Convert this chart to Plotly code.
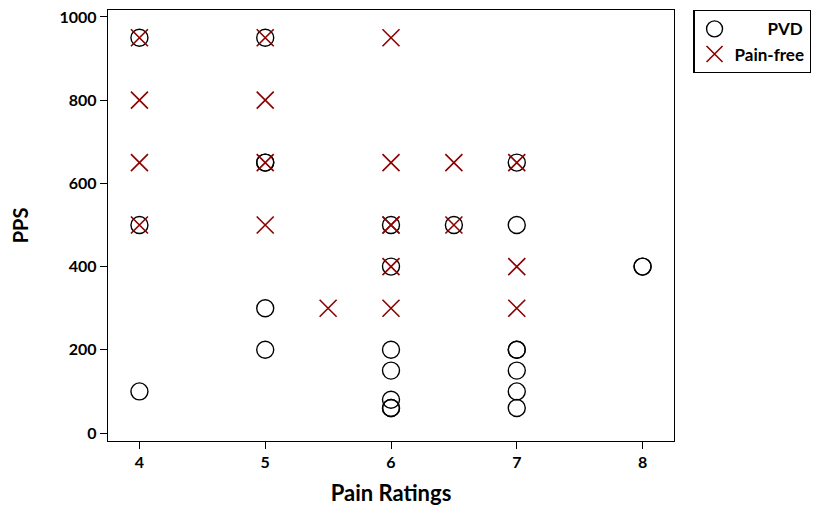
import plotly.graph_objects as go

# PVD (circles)
pvd_x = [4, 4, 4,
         5, 5, 5, 5, 5,
         6, 6, 6, 6, 6, 6, 6,
         6.5,
         7, 7, 7, 7, 7, 7, 7,
         8, 8]
pvd_y = [950, 500, 100,
         950, 650, 650, 300, 200,
         500, 400, 200, 150, 80, 60, 60,
         500,
         650, 500, 200, 200, 150, 100, 60,
         400, 400]

# Pain-free (crosses)
pf_x = [4, 4, 4, 4,
        5, 5, 5, 5,
        5.5,
        6, 6, 6, 6, 6, 6,
        6.5, 6.5,
        7, 7, 7]
pf_y = [950, 800, 650, 500,
        950, 800, 650, 500,
        300,
        950, 650, 500, 500, 400, 300,
        650, 500,
        650, 400, 300]

x_ticks = [4, 5, 6, 7, 8]
y_ticks = [0, 200, 400, 600, 800, 1000]

FONT = "Lato"
NB = "\u00a0"

fig = go.Figure()
fig.add_trace(go.Scatter(
    x=pvd_x, y=pvd_y, mode="markers", name=NB * 8 + "PVD", legendgroup="a",
    marker=dict(symbol="circle-open", size=17, color="black",
                line=dict(color="black", width=1.4)),
))
fig.add_trace(go.Scatter(
    x=pf_x, y=pf_y, mode="markers", name="Pain-free", legendgroup="b",
    marker=dict(symbol="x-thin-open", size=17, color="#8B0000",
                line=dict(color="#8B0000", width=1.6)),
))

axis_common = dict(
    showline=True, linecolor="black", linewidth=1.3, mirror=True,
    ticks="outside", ticklen=7, tickwidth=1.3, tickcolor="black",
    showgrid=False, zeroline=False, ticklabeloverflow="allow",
    tickfont=dict(family=FONT, size=16, color="black", weight="bold"),
)

fig.update_xaxes(range=[3.75, 8.25], tickvals=x_ticks,
                 title=dict(text="Pain Ratings", standoff=15,
                            font=dict(family=FONT, size=22, color="black", weight="bold")),
                 **axis_common)
fig.update_yaxes(range=[-19.2, 1016.8], tickvals=y_ticks,
                 title=dict(text="PPS", standoff=38,
                            font=dict(family=FONT, size=20, color="black", weight="bold")),
                 **axis_common)

fig.update_layout(
    width=820, height=507,
    margin=dict(l=100, r=154, t=2, b=74, autoexpand=False),
    plot_bgcolor="white", paper_bgcolor="white",
    showlegend=True,
    legend=dict(x=1.034, y=1.0, xanchor="left", yanchor="top",
                bordercolor="black", borderwidth=1.3, bgcolor="white",
                traceorder="grouped", tracegroupgap=0,
                font=dict(family=FONT, size=17, color="black", weight="bold")),
)

fig.write_html("out.html")
